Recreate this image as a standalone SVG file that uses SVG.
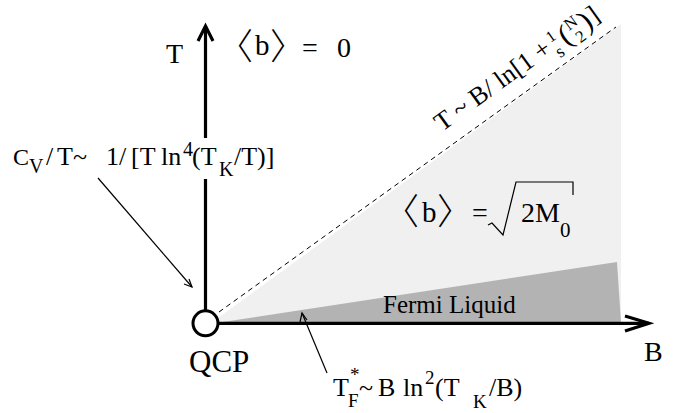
<svg xmlns="http://www.w3.org/2000/svg" width="689" height="413" viewBox="0 0 689 413">
<style>
text{font-family:"Liberation Serif","DejaVu Serif",serif;fill:#000}
.br{font-family:"Noto Sans CJK JP","Noto Sans CJK SC",sans-serif;font-size:36px;font-weight:300}
.axis{stroke:#000;stroke-width:3.2;fill:none}
.thin{stroke:#000;stroke-width:1.2;fill:none}
.dash{stroke:#000;stroke-width:1;stroke-dasharray:5 4;fill:none}
</style>
<rect width="689" height="413" fill="#fff"/>
<g id="regions">
<polygon points="214,321 621,24 621,323 214,323" fill="#f0f0f0"/>
<polygon points="216,323 617,262 621,323" fill="#b3b3b3"/>
</g>
<g id="connectors">
<line class="dash" x1="219" y1="312" x2="616" y2="27"/>
<polyline class="axis" points="205.5,138 205.5,26"/>
<polyline class="axis" points="205.5,179 205.5,310"/>
<polyline class="axis" points="198,41 205.5,26 213,41"/>
<line class="axis" x1="218" y1="323.3" x2="649" y2="323.3"/>
<polyline class="axis" points="625,316 649,323.3 625,331"/>
<line class="thin" x1="98" y1="178" x2="192" y2="287"/>
<polyline class="thin" points="184,284 192,287 189,279"/>
<line class="thin" x1="327" y1="373" x2="302" y2="313"/>
<polyline class="thin" points="300,322 302,313 307,320"/>
</g>
<g id="qcp">
<circle cx="205.5" cy="323.3" r="12.5" fill="#fff" stroke="#000" stroke-width="3"/>
<text x="189" y="372" font-size="31">QCP</text>
</g>
<g id="axis-labels">
<text x="166" y="63" font-size="28">T</text>
<text x="644" y="361" font-size="28">B</text>
</g>
<g id="b-zero">
<text font-size="28"><tspan class="br" x="217" y="60" letter-spacing="-2">〈</tspan><tspan x="255" y="55" font-size="29">b</tspan><tspan class="br" x="270" y="60" letter-spacing="-16">〉</tspan><tspan x="302" y="57">=</tspan><tspan x="337" y="57">0</tspan></text>
</g>
<g id="b-sqrt">
<text font-size="28"><tspan class="br" x="383" y="225" letter-spacing="-2">〈</tspan><tspan x="422" y="222" font-size="29">b</tspan><tspan class="br" x="437" y="225" letter-spacing="-16">〉</tspan><tspan x="472" y="222">=</tspan><tspan x="521" y="222">2M</tspan><tspan x="560" y="237" font-size="21">0</tspan></text>
<polyline class="thin" points="488,225 492,223 503,235 516,182 573,182 573,195"/>
</g>
<g id="fermi-liquid">
<text x="383" y="313" font-size="25">Fermi Liquid</text>
</g>
<g id="cv-label">
<text font-size="26"><tspan x="13" y="165" font-size="24">C</tspan><tspan x="29" y="173" font-size="20">V</tspan><tspan x="46" y="165">/</tspan><tspan x="57" y="165">T~</tspan><tspan x="106" y="165">1/</tspan><tspan x="131" y="165">[T</tspan><tspan x="161" y="165">ln</tspan><tspan x="183" y="156" font-size="20">4</tspan><tspan x="192" y="165">(T</tspan><tspan x="219" y="176" font-size="20">K</tspan><tspan x="234" y="165">/T)]</tspan></text>
</g>
<g id="tf-label">
<text font-size="26"><tspan x="333" y="396">T</tspan><tspan x="348" y="407" font-size="19">F</tspan><tspan x="350" y="381" font-size="19">*</tspan><tspan x="359" y="396">~</tspan><tspan x="378" y="396">B</tspan><tspan x="403" y="396">ln</tspan><tspan x="425" y="384" font-size="19">2</tspan><tspan x="435" y="396">(T</tspan><tspan x="473" y="408" font-size="19">K</tspan><tspan x="489" y="396">/B)</tspan></text>
</g>
<g id="line-label">
<text transform="translate(442,132) rotate(-35.7)" font-size="26"><tspan x="0" y="0">T ~ B/ ln[1 +</tspan><tspan x="140" y="-9" font-size="16">1</tspan><tspan x="139" y="9" font-size="18">s</tspan><tspan x="151" y="3" font-size="30">(</tspan><tspan x="162" y="-8" font-size="17">N</tspan><tspan x="164" y="9" font-size="17">2</tspan><tspan x="176" y="3" font-size="30">)</tspan><tspan x="187" y="1">]</tspan></text>
</g>
</svg>
